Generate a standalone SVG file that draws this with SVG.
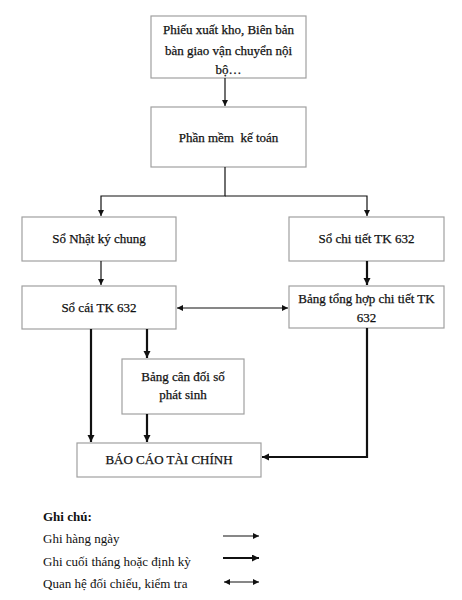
<svg xmlns="http://www.w3.org/2000/svg" width="462" height="600" viewBox="0 0 462 600">
<style>
.box{fill:#fff;stroke:#a0a0a0;stroke-width:1.2}
.t{font-family:"Liberation Serif","Times New Roman",serif;font-size:13px;fill:#111;stroke:#111;stroke-width:0.25;text-anchor:middle}
.l{font-family:"Liberation Serif","Times New Roman",serif;font-size:13px;fill:#111}
.thin{stroke:#111;stroke-width:1.2;fill:none}
.thick{stroke:#111;stroke-width:2.2;fill:none}
</style>
<defs>
<marker id="a" markerUnits="userSpaceOnUse" markerWidth="8" markerHeight="8" refX="6" refY="3" orient="auto-start-reverse"><path d="M0,0 L6,3 L0,6 z" fill="#111"/></marker>
<marker id="b" markerUnits="userSpaceOnUse" markerWidth="9" markerHeight="9" refX="7" refY="3.5" orient="auto"><path d="M0,0 L7,3.5 L0,7 z" fill="#111"/></marker>
</defs>
<rect width="462" height="600" fill="#fff"/>
<g id="n1"><rect class="box" x="151" y="16" width="155" height="62"/>
<text class="t" x="228.5" y="34">Phiếu xuất kho, Biên bản</text>
<text class="t" x="228.5" y="55">bàn giao vận chuyển nội</text>
<text class="t" x="228.5" y="74">bộ…</text></g>
<g id="n2"><rect class="box" x="151" y="107" width="155" height="60"/>
<text class="t" x="228.5" y="142">Phần mềm&#160; kế toán</text></g>
<g id="n3"><rect class="box" x="22" y="217" width="154" height="44"/>
<text class="t" x="99" y="243">Sổ Nhật ký chung</text></g>
<g id="n4"><rect class="box" x="289" y="217" width="155" height="44"/>
<text class="t" x="366.5" y="243">Sổ chi tiết TK 632</text></g>
<g id="n5"><rect class="box" x="22" y="286" width="154" height="43"/>
<text class="t" x="99" y="312">Sổ cái TK 632</text></g>
<g id="n6"><rect class="box" x="289" y="286" width="155" height="42"/>
<text class="t" x="366.5" y="303">Bảng tổng hợp chi tiết TK</text>
<text class="t" x="366.5" y="322">632</text></g>
<g id="n7"><rect class="box" x="122" y="359" width="122" height="55"/>
<text class="t" x="183" y="381">Bảng cân đối số</text>
<text class="t" x="183" y="399">phát sinh</text></g>
<g id="n8"><rect class="box" x="77" y="443" width="184" height="34"/>
<text class="t" x="169" y="464">BÁO CÁO TÀI CHÍNH</text></g>
<g id="connectors">
<line class="thin" x1="225" y1="78" x2="225" y2="106" marker-end="url(#a)"/>
<polyline class="thin" points="225,167 225,196 101,196 101,216" marker-end="url(#a)"/>
<polyline class="thin" points="225,196 367,196 367,216" marker-end="url(#a)"/>
<line class="thin" x1="101" y1="261" x2="101" y2="285" marker-end="url(#a)"/>
<line class="thick" x1="367" y1="261" x2="367" y2="285" marker-end="url(#b)"/>
<line class="thin" x1="177" y1="308" x2="288" y2="308" marker-start="url(#a)" marker-end="url(#a)"/>
<line class="thick" x1="91" y1="329" x2="91" y2="442" marker-end="url(#b)"/>
<line class="thick" x1="147" y1="329" x2="147" y2="358" marker-end="url(#b)"/>
<line class="thick" x1="147" y1="414" x2="147" y2="442" marker-end="url(#b)"/>
<polyline class="thick" points="367,328 367,457 262,457" marker-end="url(#b)"/>
</g>
<g id="legend">
<text class="l" x="43" y="521" font-weight="bold">Ghi chú:</text>
<text class="l" x="43" y="543">Ghi hàng ngày</text>
<text class="l" x="43" y="566">Ghi cuối tháng hoặc định kỳ</text>
<text class="l" x="43" y="588">Quan hệ đối chiếu, kiểm tra</text>
<line class="thin" x1="223" y1="536" x2="259" y2="536" marker-end="url(#a)"/>
<line class="thick" x1="223" y1="558" x2="259" y2="558" marker-end="url(#b)"/>
<line class="thin" x1="224" y1="582" x2="259" y2="582" marker-start="url(#a)" marker-end="url(#a)"/>
</g>
</svg>
